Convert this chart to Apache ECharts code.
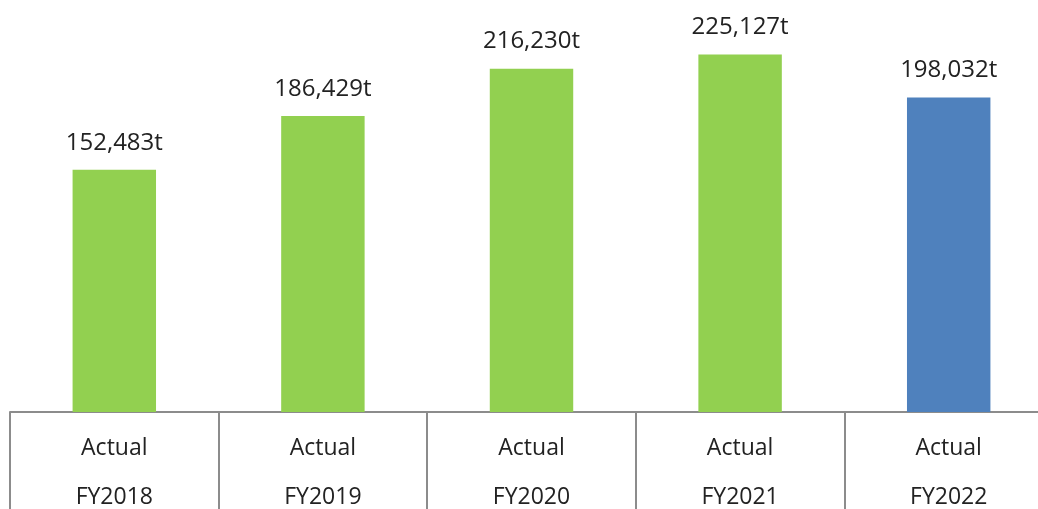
<!DOCTYPE html>
<html><head><meta charset="utf-8">
<script src="https://cdn.jsdelivr.net/npm/echarts@6/dist/echarts.min.js"></script>
<style>html,body{margin:0;padding:0;background:#fff}#c{width:1038px;height:509px}</style>
</head><body><div id="c"></div>
<script>
const categories = ['Actual\nFY2018','Actual\nFY2019','Actual\nFY2020','Actual\nFY2021','Actual\nFY2022'];
const values = [152483, 186429, 216230, 225127, 198032];
const barColors = ['#92D050','#92D050','#92D050','#92D050','#4F81BD'];

const chart = echarts.init(document.getElementById('c'));
chart.setOption({
  animation:false,
  grid:{left:10, top:15, width:1043, height:397, containLabel:false, outerBoundsMode:'none'},
  xAxis:{
    type:'category', data:categories,
    axisLine:{lineStyle:{color:'#8c8c8c', width:2}},
    axisTick:{show:true, interval:0, length:100, lineStyle:{color:'#8c8c8c', width:2}},
    axisLabel:{interval:0, margin:12, fontFamily:'Open Sans', fontSize:23, color:'#222', lineHeight:49}
  },
  yAxis:{type:'value', min:0, max:250000, show:false, splitLine:{show:false}},
  series:[{
    type:'bar', barWidth:'40%',
    data: values.map((v,i)=>({value:v, itemStyle:{color:barColors[i]}})),
    label:{show:true, position:'top', distance:13, fontFamily:'Open Sans', fontSize:24, color:'#222', lineHeight:28,
      formatter:p=>p.value.toLocaleString('en-US')+'t'}
  }]
});
</script></body></html>
